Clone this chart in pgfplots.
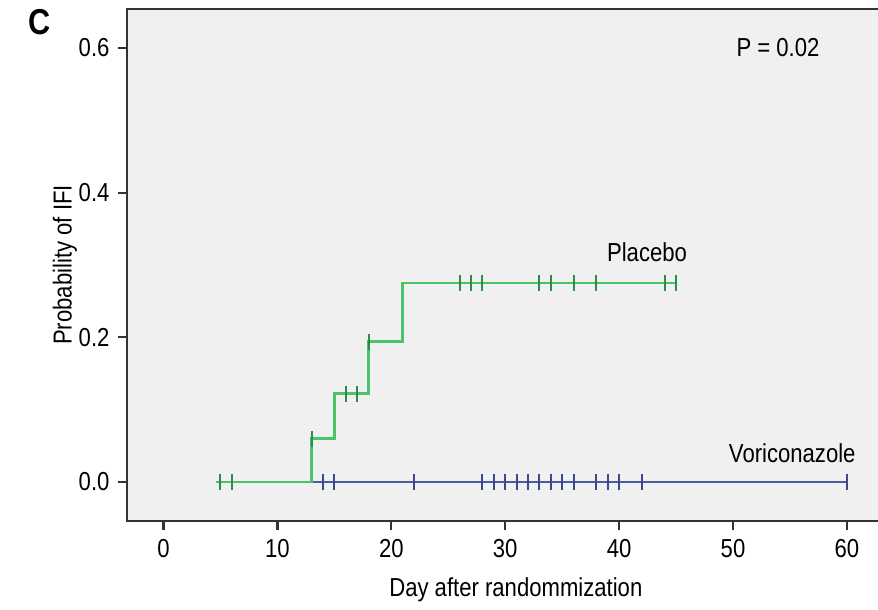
\documentclass[border=0pt]{standalone}
\usepackage{fontspec}
\setmainfont[FakeStretch=0.85]{Liberation Sans}
\usepackage{pgfplots}
\pgfplotsset{compat=1.18}
\definecolor{plac}{HTML}{4CC36A}
\definecolor{placmk}{HTML}{2E8B4A}
\definecolor{vori}{HTML}{4A5FA0}
\definecolor{vorimk}{HTML}{3A4A8A}
\definecolor{axcol}{HTML}{333333}
\definecolor{bgcol}{HTML}{F0F0F0}
\newcommand{\lab}{\fontsize{26}{30}\selectfont}
\begin{document}
\begin{tikzpicture}
\begin{axis}[
    scale only axis,
    width=755pt, height=512pt,
    xmin=-3.205, xmax=63.08,
    ymin=-0.054, ymax=0.654,
    axis background/.style={fill=bgcol},
    axis line style={axcol, line width=2.2pt},
    xtick={0,10,...,60},
    ytick={0,0.2,0.4,0.6},
    yticklabel style={xshift=-5pt,/pgf/number format/.cd,fixed,fixed zerofill,precision=1},
    xticklabel style={yshift=-6pt},
    /pgf/number format/assume math mode=true,
    tick align=outside,
    xtick pos=bottom, ytick pos=left,
    major tick length=9pt,
    tick style={axcol, line width=2.2pt},
    ticklabel style={font=\lab},
    xlabel={Day after randommization},
    ylabel={Probability of IFI},
    label style={font=\lab},
    xlabel style={at={(axis description cs:0.515,-0.135)}, anchor=center},
    ylabel style={at={(axis description cs:-0.0821,0.5)}, anchor=center},
    clip=false,
]
% Voriconazole: no events
\addplot[vori, line width=2.8pt] coordinates {(4.6,0) (60,0)};
\addplot[only marks, mark=|, mark size=8pt, vorimk, mark options={line width=2pt}] coordinates {
 (14,0) (15,0) (22,0) (28,0) (29,0) (30,0) (31,0) (32,0) (33,0) (34,0)
 (35,0) (36,0) (38,0) (39,0) (40,0) (42,0) (60,0)};
% Placebo
\addplot[plac, line width=2.8pt, const plot] coordinates {
 (4.6,0) (13,0.060) (15,0.122) (18,0.194) (21,0.275) (45,0.275)};
\addplot[only marks, mark=|, mark size=8pt, placmk, mark options={line width=2pt}] coordinates {
 (5,0) (6,0) (13,0.060) (16,0.122) (17,0.122) (18,0.194)
 (26,0.275) (27,0.275) (28,0.275) (33,0.275) (34,0.275) (36,0.275)
 (38,0.275) (44,0.275) (45,0.275)};
\node[font=\lab] at (axis cs:42.45,0.318) {Placebo};
\node[font=\lab] at (axis cs:55.2,0.040) {Voriconazole};
\node[font=\lab] at (axis cs:53.95,0.600) {P = 0.02};
\node[font=\fontsize{36}{40}\selectfont\bfseries] at (axis cs:-10.85,0.636) {C};
\coordinate (sw) at (rel axis cs:0,0);
\end{axis}
\pgfresetboundingbox
\useasboundingbox (sw) ++(-127pt,-89pt) rectangle ++(878pt,610pt);
\end{tikzpicture}
\end{document}
